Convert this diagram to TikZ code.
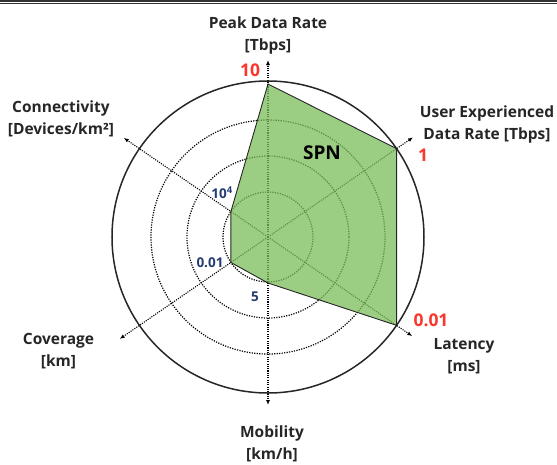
\documentclass[tikz,border=0pt]{standalone}
\usepackage{fontspec}
\setmainfont{Open Sans}
\usetikzlibrary{arrows.meta}
\definecolor{spngreen}{RGB}{121,188,88}
\definecolor{hired}{RGB}{250,55,45}
\definecolor{lonavy}{RGB}{35,60,115}
\begin{document}
\begin{tikzpicture}[x=1pt,y=1pt,
        ax/.style={line width=1.1pt, dash pattern=on 1.1pt off 1.2pt,
                        -{Latex[length=5pt,width=4pt]}},
        ring/.style={line width=1.2pt, dash pattern=on 1.2pt off 1.3pt},
        lbl/.style={font=\bfseries\fontsize{15.5}{22}\selectfont,
                        align=center, text=black!85},
        hi/.style={font=\bfseries\fontsize{17.5}{17.5}\selectfont, text=hired},
        lo/.style={font=\bfseries\fontsize{13.5}{13.5}\selectfont, text=lonavy}]
    \useasboundingbox (-268,-227) rectangle (289,237);
    % frame line on top
    \draw[line width=1.7pt, black!80] (-268,236.2) -- (289,236.2);
    \draw[line width=1.3pt, black!80] (-268,233.2) -- (289,233.2);
    \coordinate (o) at (0,0);
    % grid rings
    \foreach \r in {45,81,117} {
        \draw[ring] (o) circle (\r);
    }
    % axes
    \foreach \a/\n/\l in {90/pk/177,34.5/ue/176,-34.5/lt/175,
                          -90/mb/168,214.5/cv/180,145.5/cn/175} {
        \coordinate (\n) at (\a:\l);
        \draw[ax] (o) -- (\n);
    }
    % SPN area
    \coordinate (v1) at (90:153);
    \coordinate (v2) at (34.5:156);
    \coordinate (v3) at (-34.5:156);
    \coordinate (v4) at (-90:46);
    \coordinate (v5) at (214.5:45);
    \coordinate (v6) at (145.5:45);
    \fill[spngreen, fill opacity=0.75]
        (v1) -- (v2) -- (v3) -- (v4) -- (v5) -- (v6) -- cycle;
    \draw[line width=0.9pt, black!85]
        (v1) -- (v2) -- (v3) -- (v4) -- (v5) -- (v6) -- cycle;
    \draw[line width=1.5pt, black!85] (o) circle (156);
    % axis names
    \node[lbl] (pkname) at (0,202) {Peak Data Rate\\{}[Tbps]};
    \node[lbl] (uename) at (219,112.5) {User Experienced\\Data Rate [Tbps]};
    \node[lbl] (ltname) at (196,-119.5) {Latency\\{}[ms]};
    \node[lbl] (mbname) at (4,-207) {Mobility\\{}[km/h]};
    \node[lbl] (cvname) at (-209.5,-114.5) {Coverage\\{}[km]};
    \node[lbl] (cnname) at (-207,118.5) {Connectivity\\{}[Devices/km²]};
    % values
    \node[hi] (pkval) at (-18,167) {10};
    \node[hi] (ueval) at (155,82) {1};
    \node[hi] (ltval) at (163,-83) {0.01};
    \node[lo] (cnval) at (-46,44) {10\textsuperscript{4}};
    \node[lo] (cvval) at (-58,-26) {0.01};
    \node[lo] (mbval) at (-13,-60) {5};
    \node[font=\bfseries\fontsize{19}{19}\selectfont] (spn) at (54,84) {SPN};
\end{tikzpicture}
\end{document}
